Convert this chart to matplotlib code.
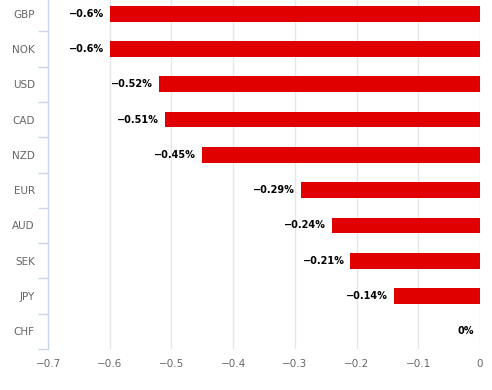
import matplotlib
matplotlib.use("Agg")
import matplotlib.pyplot as plt
from matplotlib.ticker import FixedLocator, NullFormatter

categories = ["GBP", "NOK", "USD", "CAD", "NZD", "EUR", "AUD", "SEK", "JPY", "CHF"]
values = [-0.6, -0.6, -0.52, -0.51, -0.45, -0.29, -0.24, -0.21, -0.14, 0.0]
labels = ["\u22120.6%", "\u22120.6%", "\u22120.52%", "\u22120.51%", "\u22120.45%",
          "\u22120.29%", "\u22120.24%", "\u22120.21%", "\u22120.14%", "0%"]
xticks = [-0.7, -0.6, -0.5, -0.4, -0.3, -0.2, -0.1, 0]
xticklabels = ["\u22120.7", "\u22120.6", "\u22120.5", "\u22120.4", "\u22120.3", "\u22120.2", "\u22120.1", "0"]

W, H = 492, 390
fig = plt.figure(figsize=(W / 100, H / 100), dpi=100)
left, right, top, bottom = 48, 480, -4, 349
ax = fig.add_axes([left / W, 1 - bottom / H, (right - left) / W, (bottom - top) / H])

n = len(categories)
ypos = list(range(n))
ax.barh(ypos, values, height=0.45, color="#e00000", zorder=3)
ax.set_ylim(n - 0.5, -0.5)
ax.set_xlim(-0.7, 0)

for y, v, lab in zip(ypos, values, labels):
    ax.annotate(lab, xy=(v, y), xytext=(-4.3, 0), textcoords="offset points",
                ha="right", va="center", fontsize=7, fontweight="bold",
                color="#000000", family="DejaVu Sans", zorder=4)

ax.set_xticks(xticks)
ax.set_xticklabels(xticklabels)
ax.tick_params(axis="x", length=0, pad=7.5, labelsize=7.5, labelcolor="#666666")
ax.grid(axis="x", color="#e6e6e6", linewidth=1, zorder=0)

ax.set_yticks(ypos)
ax.set_yticklabels(categories)
ax.tick_params(axis="y", which="major", length=0, pad=9.5, labelsize=7.5, labelcolor="#666666")
ax.yaxis.set_minor_locator(FixedLocator([i + 0.5 for i in range(n)]))
ax.yaxis.set_minor_formatter(NullFormatter())
ax.tick_params(axis="y", which="minor", length=7, width=1, color="#ccd6eb")

for s in ["top", "right", "bottom"]:
    ax.spines[s].set_visible(False)
ax.spines["left"].set_color("#ccd6eb")
ax.spines["left"].set_linewidth(1)

fig.savefig("out.png", dpi=100)
